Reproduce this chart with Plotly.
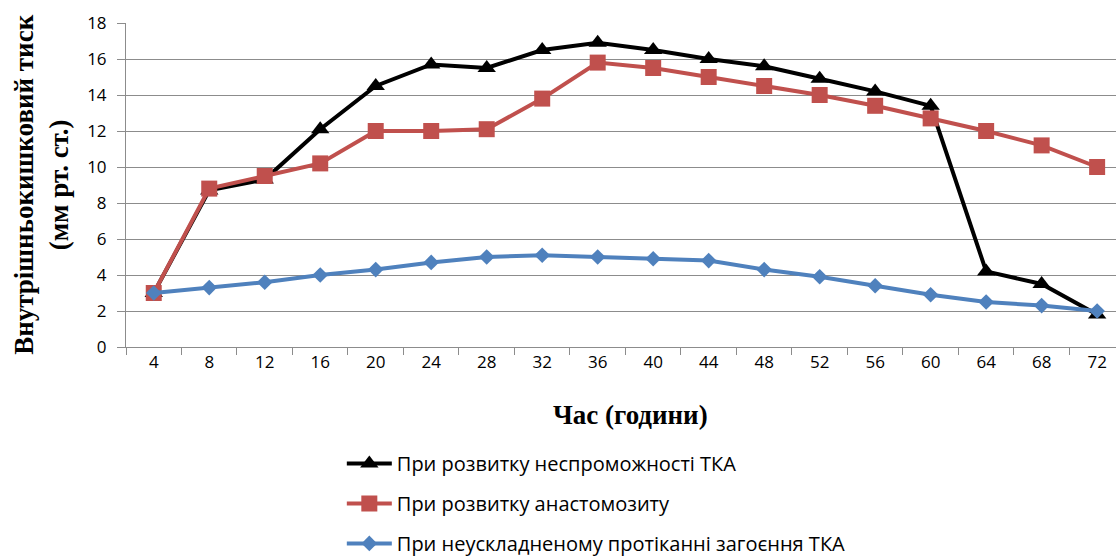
import plotly.graph_objects as go

# Time after surgery (hours)
hours = ["4", "8", "12", "16", "20", "24", "28", "32", "36",
         "40", "44", "48", "52", "56", "60", "64", "68", "72"]

# Intraintestinal pressure (mm Hg) for each clinical course
failure = [3.0, 8.7, 9.3, 12.1, 14.5, 15.7, 15.5, 16.5, 16.9,
           16.5, 16.0, 15.6, 14.9, 14.2, 13.4, 4.2, 3.5, 1.8]
anastomositis = [3.0, 8.8, 9.5, 10.2, 12.0, 12.0, 12.1, 13.8, 15.8,
                 15.5, 15.0, 14.5, 14.0, 13.4, 12.7, 12.0, 11.2, 10.0]
uncomplicated = [3.0, 3.3, 3.6, 4.0, 4.3, 4.7, 5.0, 5.1, 5.0,
                 4.9, 4.8, 4.3, 3.9, 3.4, 2.9, 2.5, 2.3, 2.0]

names = ["При розвитку неспроможності ТКА",
         "При розвитку анастомозиту",
         "При неускладненому протіканні загоєння ТКА"]

series = [
    (failure, names[0], "#000000", "triangle-up", 16),
    (anastomositis, names[1], "#C0504D", "square", 16),
    (uncomplicated, names[2], "#4F81BD", "diamond", 12),
]

fig = go.Figure()
for i, (vals, name, color, symbol, msize) in enumerate(series):
    fig.add_trace(go.Scatter(
        x=hours, y=vals, name=name, mode="lines+markers",
        legendgroup=f"g{i}",
        line=dict(color=color, width=4),
        marker=dict(symbol=symbol, size=msize, color=color),
    ))

tick_font = dict(family="Open Sans, sans-serif", size=17, color="#000000")
title_font = dict(family="Liberation Serif, Times New Roman, serif", size=27,
                  color="#000000")
grey = "#8C8C8C"

fig.update_layout(
    width=1116, height=556,
    margin=dict(l=126, r=0, t=23, b=209, autoexpand=False),
    paper_bgcolor="white", plot_bgcolor="white",
    showlegend=True,
    legend=dict(
        x=0.218, y=-0.299, xanchor="left", yanchor="top",
        orientation="v", tracegroupgap=11, itemwidth=45,
        font=dict(family="Open Sans, sans-serif", size=20, color="#000000"),
        bgcolor="rgba(0,0,0,0)",
    ),
    xaxis=dict(
        type="category", range=[-0.5, 17.34], automargin=False,
        tickson="boundaries", ticks="outside", ticklen=7,
        tickcolor=grey, tickwidth=1, tickangle=0,
        showline=True, linecolor=grey, linewidth=1,
        showgrid=False, tickfont=tick_font,
    ),
    yaxis=dict(
        range=[0, 18], dtick=2, tickmode="linear", automargin=False,
        ticks="outside", ticklen=8, tickcolor=grey, tickwidth=1,
        ticklabelstandoff=7,
        showline=True, linecolor=grey, linewidth=1,
        showgrid=True, gridcolor=grey, gridwidth=1,
        zeroline=False, tickfont=tick_font,
    ),
    annotations=[
        dict(text="<b>Час (години)</b>", xref="paper", yref="paper",
             x=0.51, y=-0.21, xanchor="center", yanchor="middle",
             showarrow=False, font=title_font),
        dict(text="<b>Внутрішньокишковий тиск<br>(мм рт. ст.)</b>",
             xref="paper", yref="paper", x=-0.086, y=0.5,
             xanchor="center", yanchor="middle", textangle=-90,
             showarrow=False, font=title_font),
    ],
)

fig.write_html("out.html")
